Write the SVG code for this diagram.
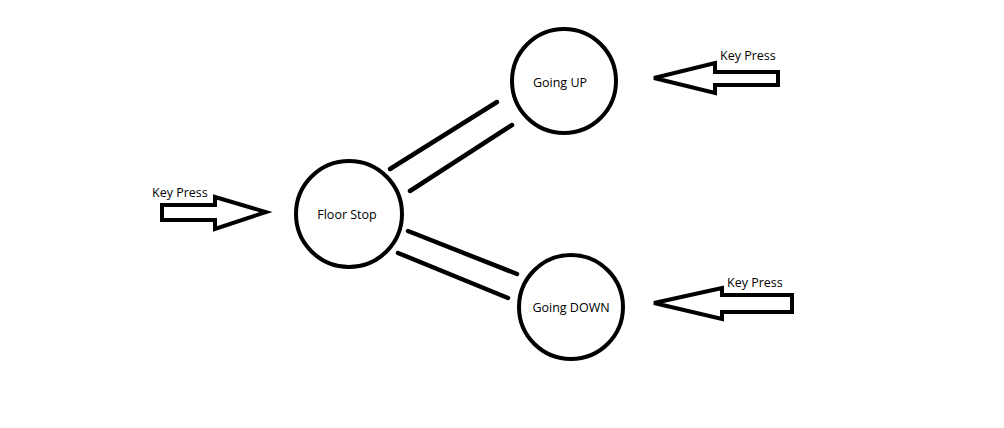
<svg xmlns="http://www.w3.org/2000/svg" width="1004" height="428" viewBox="0 0 1004 428">
<style>
.node{fill:#fff;stroke:#000;stroke-width:4}
.lbl{font-family:"Open Sans","Liberation Sans",sans-serif;font-size:12.5px;fill:#000}
.arrow{fill:#fff;stroke:#000;stroke-width:4;stroke-linejoin:miter}
.conn{stroke:#000;stroke-width:4.5;stroke-linecap:round}
</style>
<rect width="1004" height="428" fill="#fff"/>
<g id="connectors">
<line class="conn" x1="390" y1="169" x2="497" y2="102"/>
<line class="conn" x1="410" y1="191" x2="512" y2="125"/>
<line class="conn" x1="408" y1="231" x2="517" y2="274"/>
<line class="conn" x1="398" y1="253" x2="508" y2="298"/>
</g>
<g id="floor-stop">
<circle class="node" cx="349" cy="214" r="53"/>
<text class="lbl" x="347" y="219" text-anchor="middle">Floor Stop</text>
</g>
<g id="going-up">
<circle class="node" cx="564" cy="81" r="52"/>
<text class="lbl" x="560" y="87" text-anchor="middle">Going UP</text>
</g>
<g id="going-down">
<circle class="node" cx="571" cy="307" r="52"/>
<text class="lbl" x="571" y="312" text-anchor="middle">Going DOWN</text>
</g>
<g id="key-press-left">
<polygon class="arrow" points="162,205 215,205 215,197 266,212 215,229 215,220 162,220"/>
<text class="lbl" x="152" y="197">Key Press</text>
</g>
<g id="key-press-up">
<polygon class="arrow" points="778,72 715,72 715,63 654,78 715,93 715,85 778,85"/>
<text class="lbl" x="720" y="60">Key Press</text>
</g>
<g id="key-press-down">
<polygon class="arrow" points="792,295 722,295 722,288 654,303 722,319 722,312 792,312"/>
<text class="lbl" x="727" y="287">Key Press</text>
</g>
</svg>
